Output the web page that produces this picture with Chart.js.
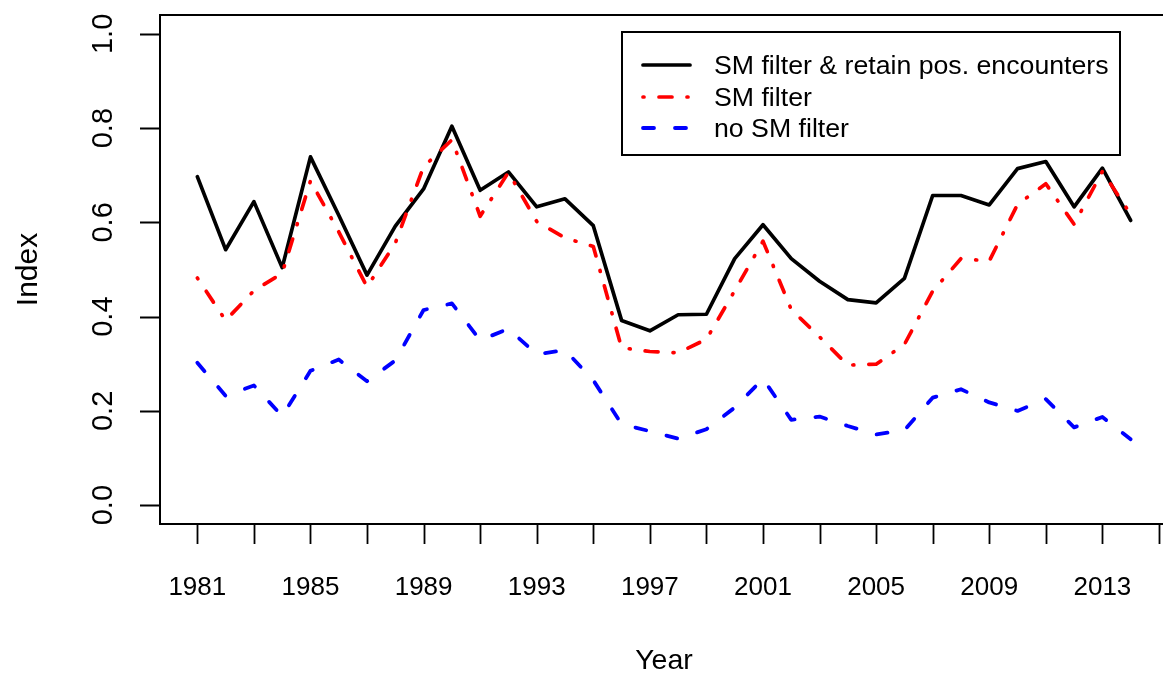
<!DOCTYPE html>
<html>
<head>
<meta charset="utf-8">
<script src="https://cdn.jsdelivr.net/npm/chart.js@4.4.1/dist/chart.umd.min.js"></script>
<style>
  html, body { margin: 0; padding: 0; background: #fff; overflow: hidden; }
  #wrap { width: 1175px; height: 677px; }
</style>
</head>
<body>
<div id="wrap"><canvas id="indexChart"></canvas></div>
<script>
// survey years and the three index series
var years = [1981, 1982, 1983, 1984, 1985, 1986, 1987, 1988, 1989, 1990,
             1991, 1992, 1993, 1994, 1995, 1996, 1997, 1998, 1999, 2000,
             2001, 2002, 2003, 2004, 2005, 2006, 2007, 2008, 2009, 2010,
             2011, 2012, 2013, 2014];

var smRetain = [0.697, 0.542, 0.644, 0.504, 0.739, 0.615, 0.488, 0.592, 0.671, 0.804,
                0.668, 0.707, 0.633, 0.650, 0.593, 0.392, 0.370, 0.404, 0.405, 0.523,
                0.595, 0.523, 0.475, 0.436, 0.429, 0.481, 0.657, 0.657, 0.637, 0.714,
                0.729, 0.633, 0.715, 0.604];

var smFilter = [0.482, 0.392, 0.455, 0.492, 0.688, 0.580, 0.463, 0.556, 0.718, 0.775,
                0.613, 0.706, 0.602, 0.567, 0.549, 0.334, 0.326, 0.323, 0.352, 0.455,
                0.560, 0.415, 0.357, 0.297, 0.299, 0.341, 0.454, 0.523, 0.518, 0.638,
                0.682, 0.596, 0.708, 0.617];

var noFilter = [0.302, 0.232, 0.254, 0.189, 0.285, 0.309, 0.263, 0.307, 0.414, 0.428,
                0.350, 0.374, 0.320, 0.329, 0.265, 0.172, 0.157, 0.141, 0.161, 0.207,
                0.268, 0.181, 0.188, 0.168, 0.150, 0.159, 0.228, 0.246, 0.218, 0.200,
                0.225, 0.165, 0.187, 0.140];

var seriesNames = ["SM filter & retain pos. encounters", "SM filter", "no SM filter"];

// axis ticks
var xTicks = [1981, 1983, 1985, 1987, 1989, 1991, 1993, 1995, 1997,
              1999, 2001, 2003, 2005, 2007, 2009, 2011, 2013, 2015];
var xLabels = [1981, 1985, 1989, 1993, 1997, 2001, 2005, 2009, 2013];
var yTicks = [0, 0.2, 0.4, 0.6, 0.8, 1.0];
var yLabels = ["0.0", "0.2", "0.4", "0.6", "0.8", "1.0"];

var FONT = '"Liberation Sans", Arial, Helvetica, sans-serif';

function toPoints(vals) {
    return vals.map(function(v, i) { return { x: years[i], y: v }; });
}

// box, axes, titles and legend drawn in R base-graphics style
var rAxes = {
    id: 'rAxes',
    afterDraw: function(chart) {
        var ctx = chart.ctx, a = chart.chartArea;
        var xs = chart.scales.x, ys = chart.scales.y;
        ctx.save();
        ctx.strokeStyle = '#000';
        ctx.fillStyle = '#000';
        ctx.lineCap = 'butt';

        ctx.lineWidth = 2;
        ctx.strokeRect(a.left, a.top, a.right - a.left, a.bottom - a.top);

        // x axis
        ctx.lineWidth = 1.8;
        ctx.beginPath();
        xTicks.forEach(function(t) {
            var px = Math.round(xs.getPixelForValue(t)) + 0.5;
            ctx.moveTo(px, a.bottom);
            ctx.lineTo(px, a.bottom + 20);
        });
        ctx.stroke();
        ctx.font = '26px ' + FONT;
        ctx.textAlign = 'center';
        ctx.textBaseline = 'alphabetic';
        xLabels.forEach(function(t) {
            ctx.fillText(String(t), xs.getPixelForValue(t), 595);
        });

        // y axis
        ctx.beginPath();
        yTicks.forEach(function(t) {
            var py = Math.round(ys.getPixelForValue(t)) + 0.5;
            ctx.moveTo(a.left - 20, py);
            ctx.lineTo(a.left, py);
        });
        ctx.stroke();
        ctx.font = '29px ' + FONT;
        yTicks.forEach(function(t, i) {
            ctx.save();
            ctx.translate(112, ys.getPixelForValue(t));
            ctx.rotate(-Math.PI / 2);
            ctx.fillText(yLabels[i], 0, 0);
            ctx.restore();
        });

        // titles
        ctx.font = '28.5px ' + FONT;
        ctx.fillText('Year', (a.left + a.right) / 2, 669);
        ctx.save();
        ctx.font = '30px ' + FONT;
        ctx.translate(37, (a.top + a.bottom) / 2);
        ctx.rotate(-Math.PI / 2);
        ctx.fillText('Index', 0, 0);
        ctx.restore();

        // legend
        ctx.lineWidth = 2;
        ctx.fillStyle = '#fff';
        ctx.fillRect(622, 32, 498, 123);
        ctx.strokeRect(622, 32, 498, 123);
        ctx.font = '26.7px ' + FONT;
        ctx.textAlign = 'left';
        var rowY = [65, 97, 128];
        chart.data.datasets.forEach(function(ds, i) {
            ctx.save();
            ctx.strokeStyle = ds.borderColor;
            ctx.lineWidth = ds.borderWidth;
            ctx.lineCap = 'round';
            ctx.setLineDash(ds.borderDash || []);
            ctx.beginPath();
            ctx.moveTo(643, rowY[i]);
            ctx.lineTo(690, rowY[i]);
            ctx.stroke();
            ctx.restore();
            ctx.fillStyle = '#000';
            ctx.fillText(ds.label, 714, rowY[i] + 9);
        });
        ctx.restore();
    }
};

var chart = new Chart(document.getElementById('indexChart'), {
    type: 'line',
    data: {
        datasets: [{
            label: seriesNames[0],
            data: toPoints(smRetain),
            borderColor: '#000000',
            borderWidth: 3.7,
            borderDash: [],
            order: 3
        }, {
            label: seriesNames[1],
            data: toPoints(smFilter),
            borderColor: '#ff0000',
            borderWidth: 3.7,
            borderDash: [1, 15, 13, 15],
            order: 2
        }, {
            label: seriesNames[2],
            data: toPoints(noFilter),
            borderColor: '#0000ff',
            borderWidth: 3.8,
            borderDash: [11, 21],
            order: 1
        }]
    },
    options: {
        responsive: true,
        maintainAspectRatio: false,
        animation: false,
        events: [],
        layout: { padding: { left: 160, top: 15, right: 7, bottom: 153 } },
        elements: {
            point: { radius: 0 },
            line: { tension: 0, borderCapStyle: 'round', borderJoinStyle: 'round', fill: false }
        },
        plugins: {
            legend: { display: false },
            tooltip: { enabled: false }
        },
        scales: {
            x: { type: 'linear', min: 1979.68, max: 2015.32, display: false },
            y: { type: 'linear', min: -0.04, max: 1.04, display: false }
        }
    },
    plugins: [rAxes]
});
</script>
</body>
</html>
